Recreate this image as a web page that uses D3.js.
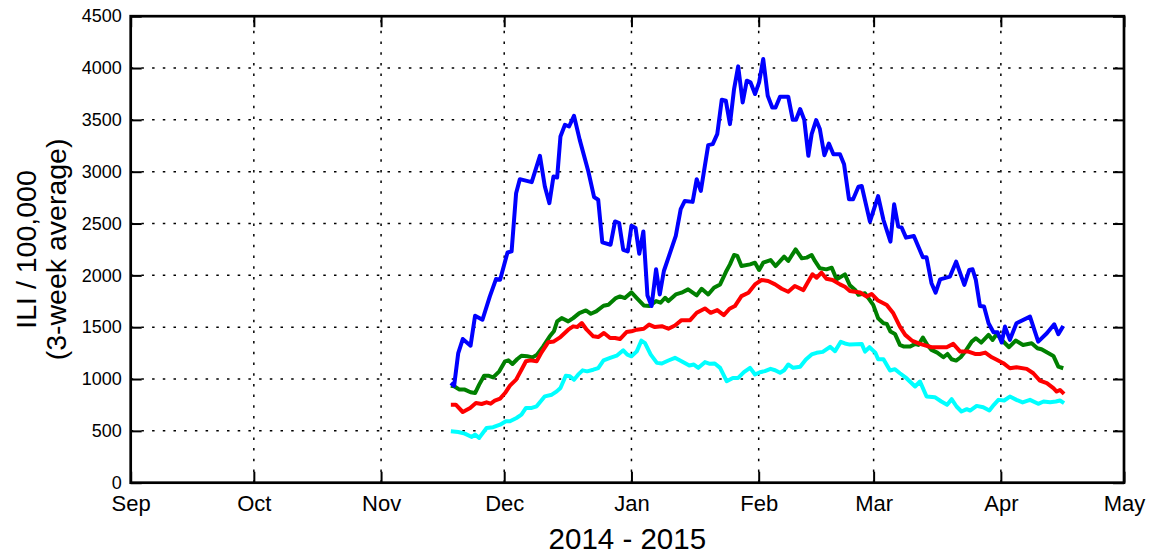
<!DOCTYPE html>
<html>
<head>
<meta charset="utf-8">
<script src="https://cdn.jsdelivr.net/npm/d3@7"></script>
<style>
  html, body { margin: 0; padding: 0; background: #fff; }
  svg { display: block; font-family: "Liberation Sans", Arial, Helvetica, sans-serif; }
  .grid line { stroke: #000; stroke-width: 1.5; stroke-dasharray: 2.5 8.2; }
  .series { fill: none; stroke-width: 4; stroke-linejoin: round; }
</style>
</head>
<body>
<svg id="chart"></svg>
<script>
// day offsets count from startDate, values are ILI per 100,000 (3-week average)
const startDate = new Date(2014, 10, 18);
const monthTicks = [new Date(2014, 8, 1), new Date(2014, 9, 1), new Date(2014, 10, 1), new Date(2014, 11, 1),
  new Date(2015, 0, 1), new Date(2015, 1, 1), new Date(2015, 2, 1), new Date(2015, 3, 1), new Date(2015, 4, 1)];
const valueTicks = [0, 500, 1000, 1500, 2000, 2500, 3000, 3500, 4000, 4500];

const blueSeries = [
  [0, 962], [0.8, 935], [1.8, 1251], [2.9, 1386], [4.8, 1322], [5.9, 1611], [7.7, 1572], [9.5, 1797],
  [11, 1964], [12, 1958], [13.8, 2221], [14.8, 2231], [15.9, 2793], [16.8, 2928], [19.7, 2899], [21.7, 3153],
  [22.9, 2857], [24, 2697], [25, 2954], [25.9, 2944], [26.7, 3339], [27.8, 3452], [28.8, 3436], [30, 3539],
  [31.4, 3307], [33.5, 3002], [34.9, 2755], [35.9, 2729], [36.9, 2318], [38.9, 2295], [40, 2520], [41, 2504],
  [42, 2247], [43.1, 2231], [44, 2478], [45, 2456], [45.9, 2208], [46.9, 2424], [47.9, 1805], [48.9, 1704],
  [50, 2058], [50.9, 1816], [51.9, 2042], [54.8, 2380], [56, 2638], [57, 2718], [58.9, 2709], [59.9, 2928],
  [60.9, 2815], [62.7, 3256], [63.8, 3266], [64.9, 3362], [66, 3694], [67, 3684], [68, 3459], [69, 3797],
  [70, 4016], [71.1, 3668], [72.1, 3878], [73, 3862], [74.1, 3749], [75.1, 3862], [76.1, 4087], [77.2, 3733],
  [78.3, 3620], [79.1, 3620], [80.2, 3723], [82.2, 3723], [83.3, 3501], [84.1, 3501], [85.1, 3604], [86.1, 3501],
  [87.1, 3153], [87.9, 3362], [89, 3498], [89.9, 3411], [91, 3159], [92.1, 3272], [93.2, 3169], [94.8, 3169],
  [95.8, 3072], [97, 2734], [98, 2734], [99.3, 2855], [100.1, 2862], [102.1, 2518], [104.1, 2765], [105.4, 2534],
  [107.1, 2325], [108, 2685], [109, 2470], [109.8, 2463], [110.9, 2364], [112.8, 2380], [115, 2174], [115.9, 2174],
  [117.1, 1924], [118.1, 1834], [119.2, 1962], [121.6, 1988], [123.1, 2132], [125.1, 1908], [126.3, 2052],
  [127.1, 2059], [127.9, 1956], [128.9, 1705], [129.9, 1699], [131, 1538], [132.2, 1451], [133.2, 1451],
  [134.2, 1352], [135, 1506], [136.2, 1378], [137.8, 1538], [141.1, 1602], [143.1, 1361], [145.2, 1442],
  [147, 1528], [148, 1432], [149.2, 1512]
];

const greenSeries = [
  [0, 936], [0.8, 930], [2.1, 898], [3.4, 898], [4.8, 872], [5.9, 865], [6.9, 946], [8.1, 1032], [9.1, 1032],
  [10.3, 1016], [11.8, 1074], [13.2, 1171], [14, 1180], [15, 1145], [16.2, 1193], [17.2, 1225], [18.6, 1219],
  [19.9, 1209], [21, 1235], [22.5, 1315], [24.1, 1412], [25.1, 1460], [25.9, 1556], [27, 1588], [28.6, 1556],
  [29.8, 1588], [31.3, 1636], [32.9, 1662], [34.1, 1630], [35.4, 1652], [37.2, 1707], [38.4, 1717], [40.2, 1781],
  [41.2, 1797], [42.4, 1781], [44, 1836], [45.3, 1781], [47, 1710], [48.4, 1705], [50, 1752], [51.1, 1736],
  [52.2, 1784], [53, 1752], [54.8, 1816], [56.2, 1833], [57.8, 1865], [59.9, 1807], [61.1, 1871], [62.7, 1816],
  [64.1, 1881], [65.6, 1913], [67, 2032], [68, 2106], [69, 2196], [69.8, 2187], [70.8, 2090], [72.9, 2106],
  [74.1, 2122], [75.1, 2052], [76.1, 2122], [77.9, 2148], [79.1, 2090], [81.2, 2180], [82.2, 2139], [84, 2251],
  [85.5, 2164], [86.7, 2171], [87.9, 2196], [88.7, 2139], [89.9, 2068], [91.5, 2058], [92.8, 2074], [94, 1961],
  [96, 2010], [97.2, 1905], [98.5, 1859], [99.3, 1813], [100.9, 1827], [102.9, 1715], [104.1, 1586],
  [105.4, 1538], [106.2, 1532], [107.1, 1458], [108.2, 1435], [109.4, 1329], [110.4, 1313], [111.9, 1313],
  [113.1, 1339], [113.9, 1329], [115, 1400], [116.1, 1329], [117.1, 1281], [118.5, 1255], [120, 1210],
  [121, 1242], [122, 1191], [123.1, 1178], [124.2, 1210], [125.3, 1265], [126.9, 1361], [127.9, 1393],
  [129.2, 1352], [131, 1426], [132, 1377], [133, 1435], [134.2, 1377], [136, 1307], [137.6, 1371], [139.4, 1329],
  [141.5, 1345], [142.9, 1297], [143.9, 1287], [145.3, 1255], [146.8, 1223], [148, 1120], [149.2, 1104]
];

const redSeries = [
  [0, 753], [1.2, 753], [2.9, 682], [4.7, 721], [6.1, 769], [7.5, 759], [8.7, 775], [9.7, 762], [10.7, 791],
  [12, 811], [13.2, 865], [14.4, 936], [15.9, 994], [17.2, 1090], [18.3, 1171], [19.4, 1180], [20.9, 1171],
  [22.1, 1257], [23.7, 1354], [25.1, 1363], [26.7, 1405], [28.6, 1476], [29.8, 1508], [30.8, 1502], [31.9, 1540],
  [33.1, 1476], [34.7, 1412], [35.9, 1405], [37.3, 1444], [38.8, 1396], [40, 1396], [41.2, 1386], [42.8, 1453],
  [44, 1460], [45.3, 1476], [47, 1485], [48.3, 1525], [49.7, 1501], [51.4, 1510], [53, 1485], [54.6, 1517],
  [56.2, 1568], [58.3, 1568], [59.9, 1639], [61.9, 1681], [63.3, 1639], [64.9, 1665], [66.5, 1617], [67.9, 1678],
  [69.2, 1704], [70.8, 1800], [72.5, 1833], [74.1, 1913], [75.7, 1955], [77.3, 1945], [79, 1913], [80.6, 1871],
  [82.2, 1842], [83.8, 1897], [85.9, 1858], [86.9, 1929], [88.1, 2010], [89.1, 1977], [90.3, 2026], [91.5, 1968],
  [93, 1955], [94.8, 1913], [96, 1890], [97.2, 1850], [99.7, 1834], [101.3, 1795], [102.5, 1821], [104.1, 1757],
  [106.2, 1715], [107.8, 1634], [109.4, 1506], [110.7, 1426], [112.3, 1371], [114.3, 1339], [117.1, 1307],
  [120.8, 1307], [122.4, 1339], [124.1, 1265], [126.1, 1265], [127.7, 1242], [128.9, 1242], [130.2, 1255],
  [131.8, 1210], [133, 1185], [134.6, 1153], [136.2, 1104], [137.8, 1114], [140.3, 1098], [141.9, 1056],
  [143.5, 985], [145.2, 960], [146.8, 912], [147.6, 879], [148.4, 895], [149.4, 857]
];

const cyanSeries = [
  [0, 496], [1.8, 489], [3.4, 473], [5.1, 441], [5.9, 464], [6.9, 432], [8.7, 528], [10.3, 535], [12, 560],
  [13.4, 592], [14.4, 592], [16, 624], [17.2, 656], [18.3, 721], [19.7, 721], [20.9, 737], [22.9, 833],
  [24.6, 849], [25.8, 881], [26.7, 914], [28, 1032], [29, 1026], [30, 994], [31, 1042], [32.1, 1084],
  [33.2, 1074], [34.7, 1090], [35.9, 1106], [37.2, 1180], [38.8, 1203], [40.4, 1225], [42, 1277], [43, 1235],
  [44, 1219], [45.3, 1267], [46.4, 1370], [47.3, 1347], [48.7, 1236], [50.2, 1156], [51.4, 1150], [53, 1179],
  [54.6, 1205], [56.2, 1172], [58.1, 1130], [59.2, 1140], [60.3, 1108], [61.9, 1163], [63.1, 1147], [64.3, 1150],
  [65.6, 1108], [67.2, 979], [68.7, 1011], [70, 1011], [71.4, 1066], [72.9, 1108], [74.1, 1044], [75.3, 1066],
  [76.5, 1076], [77.9, 1098], [79, 1085], [80.2, 1060], [81.2, 1085], [82.2, 1140], [83.4, 1108], [85.1, 1118],
  [86.5, 1188], [87.9, 1237], [89.1, 1253], [90.6, 1262], [92.4, 1311], [93.6, 1269], [95, 1359], [96, 1343],
  [97.2, 1332], [100.1, 1339], [100.9, 1265], [102, 1307], [103.4, 1255], [104.1, 1191], [105.4, 1191],
  [107, 1082], [108.2, 1095], [109.4, 1056], [111, 1008], [113.1, 928], [114.3, 976], [115.9, 831], [117.9, 825],
  [119.5, 783], [120.9, 751], [122, 806], [123.2, 735], [124.4, 687], [125.7, 709], [126.5, 696], [128.1, 741],
  [129.7, 728], [131.2, 696], [132.3, 751], [133.4, 799], [134.8, 793], [136.2, 831], [137.8, 799], [139.3, 774],
  [141.1, 799], [143.1, 761], [144.4, 783], [146, 777], [147.4, 783], [148.4, 793], [149.4, 767]
];

const seriesList = [
  { data: greenSeries, color: '#008000' },
  { data: redSeries, color: '#ff0000' },
  { data: cyanSeries, color: '#00ffff' },
  { data: blueSeries, color: '#0000ff' }
];

const width = 1151;
const height = 554;
const plot = { left: 130.7, right: 1124, top: 16.2, bottom: 482.7 };
const tickLen = 11;

const svg = d3.select('#chart').attr('width', width).attr('height', height);

const x = d3.scaleTime().domain([monthTicks[0], monthTicks[monthTicks.length - 1]]).range([plot.left, plot.right]);
const y = d3.scaleLinear().domain([0, 4500]).range([plot.bottom, plot.top]);
const dayToDate = d => new Date(startDate.getTime() + d * 864e5);

// dotted grid
const grid = svg.append('g').attr('class', 'grid');
grid.selectAll('.gy').data(valueTicks.slice(1, -1)).join('line')
  .attr('x1', plot.left).attr('x2', plot.right)
  .attr('y1', d => y(d)).attr('y2', d => y(d));
grid.selectAll('.gx').data(monthTicks.slice(1, -1)).join('line')
  .attr('y1', plot.bottom).attr('y2', plot.top)
  .attr('x1', d => x(d)).attr('x2', d => x(d));

// series
const line = d3.line()
  .x(d => x(dayToDate(d[0])))
  .y(d => y(d[1]));

svg.append('g').selectAll('path').data(seriesList).join('path')
  .attr('class', 'series')
  .attr('stroke', d => d.color)
  .attr('d', d => line(d.data));

// axes with inward ticks
const yAxis = d3.axisLeft(y).tickValues(valueTicks).tickFormat(d3.format('d'))
  .tickSizeInner(-tickLen).tickSizeOuter(0).tickPadding(9);
const xAxis = d3.axisBottom(x).tickValues(monthTicks).tickFormat(d3.timeFormat('%b'))
  .tickSizeInner(-tickLen).tickSizeOuter(0).tickPadding(13);

const gy = svg.append('g').attr('transform', `translate(${plot.left},0)`).call(yAxis);
gy.select('.domain').remove();
gy.selectAll('.tick line').attr('stroke-width', 2);
gy.selectAll('.tick text').attr('font-size', 18).attr('fill', '#000')
  .attr('font-family', '"Liberation Sans", Arial, sans-serif');

const gx = svg.append('g').attr('transform', `translate(0,${plot.bottom})`).call(xAxis);
gx.select('.domain').remove();
gx.selectAll('.tick line').attr('stroke-width', 2);
gx.selectAll('.tick text').attr('font-size', 22).attr('fill', '#000')
  .attr('font-family', '"Liberation Sans", Arial, sans-serif');

const gyr = svg.append('g').attr('transform', `translate(${plot.right},0)`)
  .call(d3.axisRight(y).tickValues(valueTicks).tickSizeInner(-tickLen).tickSizeOuter(0).tickFormat(''));
gyr.select('.domain').remove();
gyr.selectAll('.tick line').attr('stroke-width', 2);

const gxt = svg.append('g').attr('transform', `translate(0,${plot.top})`)
  .call(d3.axisTop(x).tickValues(monthTicks).tickSizeInner(-tickLen).tickSizeOuter(0).tickFormat(''));
gxt.select('.domain').remove();
gxt.selectAll('.tick line').attr('stroke-width', 2);

// frame
svg.append('rect')
  .attr('x', plot.left).attr('y', plot.top)
  .attr('width', plot.right - plot.left).attr('height', plot.bottom - plot.top)
  .attr('fill', 'none').attr('stroke', '#000').attr('stroke-width', 2.7);

// axis titles
svg.append('text')
  .attr('x', (plot.left + plot.right) / 2).attr('y', 549)
  .attr('text-anchor', 'middle').attr('font-size', 29.5)
  .text('2014 - 2015');

const yTitle = svg.append('text')
  .attr('transform', `translate(0,${(plot.top + plot.bottom) / 2}) rotate(-90)`)
  .attr('text-anchor', 'middle').attr('font-size', 28.5);
yTitle.append('tspan').attr('x', 0).attr('y', 36).text('ILI / 100,000');
yTitle.append('tspan').attr('x', 0).attr('y', 66).text('(3-week average)');
</script>
</body>
</html>
